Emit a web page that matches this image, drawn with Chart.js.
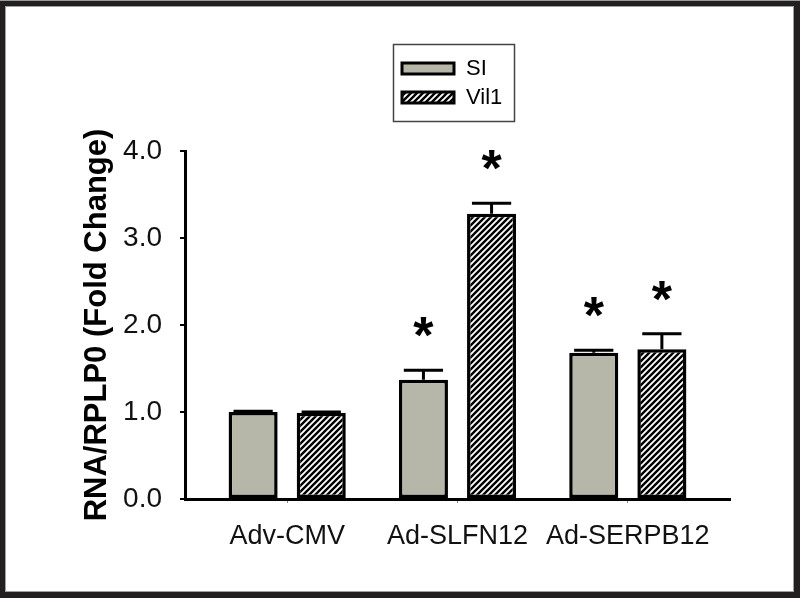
<!DOCTYPE html>
<html>
<head>
<meta charset="utf-8">
<script src="https://cdn.jsdelivr.net/npm/chart.js@4.4.1/dist/chart.umd.min.js"></script>
<style>
  html, body { margin: 0; padding: 0; background: #231f20; }
  #wrap { width: 800px; height: 598px; }
</style>
</head>
<body>
<div id="wrap"><canvas id="myChart" width="800" height="598"></canvas></div>
<script>
// values
const categories = ['Adv-CMV', 'Ad-SLFN12', 'Ad-SERPB12'];
const siValues = [1.00, 1.37, 1.68];
const siErrors = [0.01, 0.11, 0.03];
const siStars = [false, true, true];
const vilValues = [0.99, 3.28, 1.72];
const vilErrors = [0.01, 0.12, 0.18];
const vilStars = [false, true, true];
const yTicks = [0, 1, 2, 3, 4];

const FONT = "'Liberation Sans', Arial, sans-serif";
const GRAY = '#b7b7a9';

// diagonal hatch for the Vil1 bars
function makeHatch() {
    const c = document.createElement('canvas');
    c.width = 6; c.height = 6;
    const g = c.getContext('2d');
    g.fillStyle = '#fff';
    g.fillRect(0, 0, 6, 6);
    g.strokeStyle = '#000';
    g.lineWidth = 2.4;
    g.beginPath();
    g.moveTo(-1, 7); g.lineTo(7, -1);
    g.moveTo(-1, 1); g.lineTo(1, -1);
    g.moveTo(5, 7); g.lineTo(7, 5);
    g.stroke();
    return g.createPattern(c, 'repeat');
}
const hatch = makeHatch();

function toPoints(vals) {
    return vals.map((v, i) => ({ x: i, y: v }));
}

// dark frame around the white sheet
const framePlugin = {
    id: 'frame',
    beforeDraw(chart) {
        const ctx = chart.ctx;
        ctx.save();
        ctx.fillStyle = '#231f20';
        ctx.fillRect(0, 0, 800, 598);
        ctx.fillStyle = '#9a9a9a';
        ctx.fillRect(0, 0, 800, 1);
        ctx.fillStyle = '#fff';
        ctx.fillRect(6, 7, 787, 584);
        ctx.strokeStyle = '#a0a0a0';
        ctx.lineWidth = 1;
        ctx.strokeRect(5.5, 6.5, 788, 585);
        ctx.restore();
    }
};

// error bars and asterisks
const errorPlugin = {
    id: 'errors',
    afterDatasetsDraw(chart) {
        const ctx = chart.ctx;
        const y = chart.scales.y;
        const errs = [siErrors, vilErrors];
        const stars = [siStars, vilStars];
        ctx.save();
        ctx.strokeStyle = '#000';
        ctx.lineWidth = 3;
        chart.data.datasets.forEach((ds, d) => {
            chart.getDatasetMeta(d).data.forEach((el, i) => {
                const top = y.getPixelForValue(ds.data[i].y + errs[d][i]);
                const half = el.width * 0.4;
                ctx.beginPath();
                ctx.moveTo(el.x, el.y);
                ctx.lineTo(el.x, top);
                ctx.moveTo(el.x - half, top);
                ctx.lineTo(el.x + half, top);
                ctx.stroke();
                if (stars[d][i]) {
                    ctx.fillStyle = '#000';
                    ctx.font = 'bold 52px ' + FONT;
                    ctx.textAlign = 'center';
                    ctx.textBaseline = 'alphabetic';
                    const m = ctx.measureText('*');
                    const mid = (m.actualBoundingBoxAscent - m.actualBoundingBoxDescent) / 2;
                    ctx.fillText('*', el.x, top - 43 + mid);
                }
            });
        });
        ctx.restore();
    }
};

// boxed legend at the top
const legendPlugin = {
    id: 'boxLegend',
    afterDraw(chart) {
        const ctx = chart.ctx;
        ctx.save();
        ctx.strokeStyle = '#444';
        ctx.lineWidth = 1.5;
        ctx.strokeRect(393.5, 44.5, 121, 77);
        chart.data.datasets.forEach((ds, i) => {
            const yy = 63 + i * 29;
            ctx.fillStyle = ds.backgroundColor;
            ctx.fillRect(402, yy, 52, 11);
            ctx.strokeStyle = '#000';
            ctx.lineWidth = 3;
            ctx.strokeRect(402, yy, 52, 11);
            ctx.fillStyle = '#000';
            ctx.font = '22px ' + FONT;
            ctx.textAlign = 'left';
            ctx.textBaseline = 'middle';
            ctx.fillText(ds.label, 466, yy + 6);
        });
        ctx.restore();
    }
};

const ctx = document.getElementById('myChart').getContext('2d');
new Chart(ctx, {
    type: 'bar',
    data: {
        datasets: [
            {
                label: 'SI',
                data: toPoints(siValues),
                backgroundColor: GRAY,
                borderColor: '#000',
                borderWidth: 3.5,
                borderSkipped: false
            },
            {
                label: 'Vil1',
                data: toPoints(vilValues),
                backgroundColor: hatch,
                borderColor: '#000',
                borderWidth: 3.5,
                borderSkipped: false
            }
        ]
    },
    options: {
        responsive: false,
        animation: false,
        categoryPercentage: 0.8,
        barPercentage: 0.72,
        layout: { padding: { left: 73, right: 70, top: 151, bottom: 39 } },
        plugins: {
            legend: { display: false },
            tooltip: { enabled: false }
        },
        scales: {
            x: {
                type: 'linear',
                min: -0.6,
                max: 2.6,
                offset: false,
                grid: {
                    offset: false,
                    drawOnChartArea: false,
                    drawTicks: true,
                    tickLength: 4,
                    color: '#888',
                    lineWidth: 1
                },
                border: { color: '#000', width: 3 },
                ticks: {
                    stepSize: 1,
                    includeBounds: false,
                    autoSkip: false,
                    maxRotation: 0,
                    padding: 17,
                    color: '#111',
                    font: { family: FONT, size: 27 },
                    callback: v => categories[v] || ''
                },
                afterFit: s => { s.height = 60; }
            },
            y: {
                min: 0,
                max: 4,
                afterBuildTicks: s => { s.ticks = yTicks.map(v => ({ value: v })); },
                grid: {
                    drawOnChartArea: false,
                    drawTicks: true,
                    tickLength: 5,
                    color: '#000',
                    lineWidth: 2
                },
                border: { color: '#000', width: 3 },
                ticks: {
                    padding: 18,
                    color: '#111',
                    font: { family: FONT, size: 28 },
                    callback: v => Number(v).toFixed(1)
                },
                title: {
                    display: true,
                    text: 'RNA/RPLP0 (Fold Change)',
                    color: '#000',
                    padding: { top: 6, bottom: 0 },
                    font: { family: FONT, size: 31, weight: 'bold' }
                },
                afterFit: s => { s.width = 112; }
            }
        }
    },
    plugins: [framePlugin, errorPlugin, legendPlugin]
});
</script>
</body>
</html>
